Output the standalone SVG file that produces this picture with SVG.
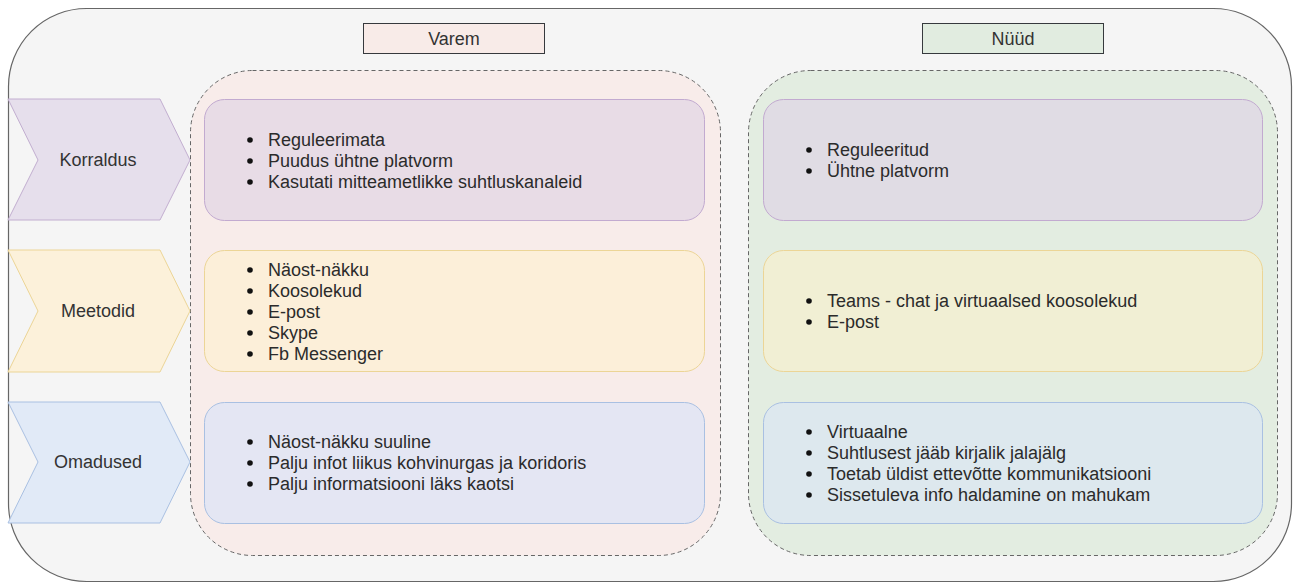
<svg xmlns="http://www.w3.org/2000/svg" width="1300" height="583" viewBox="0 0 1300 583">
  <style>
    text { font-family: "Liberation Sans", Arial, sans-serif; font-size: 18px; fill: #2b2b2b; }
    .lbl { text-anchor: middle; fill: #333; }
    .dash { stroke: #666; stroke-width: 1; stroke-dasharray: 4 3; }
    .bul { fill: #111; }
  </style>
  <rect width="1300" height="583" fill="#ffffff"/>

  <!-- outer frame -->
  <g id="frame">
    <rect x="8.5" y="8.5" width="1283" height="573" rx="78" ry="78" fill="#f5f5f5" stroke="#666" stroke-width="1.2"/>
  </g>

  <!-- column headers -->
  <g id="hdr-varem">
    <rect x="363.5" y="23.5" width="181" height="30" fill="#f8ebe8" stroke="#36393d"/>
    <text class="lbl" x="454" y="45">Varem</text>
  </g>
  <g id="hdr-nuud">
    <rect x="922.5" y="23.5" width="181" height="30" fill="#e1ece0" stroke="#36393d"/>
    <text class="lbl" x="1013" y="45">Nüüd</text>
  </g>

  <!-- column containers -->
  <g id="col-varem">
    <rect x="190.5" y="70.5" width="530" height="485" rx="62" ry="62" fill="#f8ecea" class="dash"/>
  </g>
  <g id="col-nuud">
    <rect x="748.5" y="70.5" width="529" height="485" rx="62" ry="62" fill="#e3ede1" class="dash"/>
  </g>

  <!-- row chevrons -->
  <g id="row-korraldus">
    <polygon points="8,99 160,99 190,160 160,220 8,220 38,160" fill="#e6dfec" stroke="#c2aed0"/>
    <text class="lbl" x="98" y="166">Korraldus</text>
  </g>
  <g id="row-meetodid">
    <polygon points="8,250 160,250 190,311 160,372 8,372 38,311" fill="#fcf1da" stroke="#ecd596"/>
    <text class="lbl" x="98" y="317">Meetodid</text>
  </g>
  <g id="row-omadused">
    <polygon points="8,402 160,402 190,462 160,523 8,523 38,462" fill="#e1eaf7" stroke="#a9c0e2"/>
    <text class="lbl" x="98" y="468">Omadused</text>
  </g>

  <!-- Varem boxes -->
  <g id="varem-korraldus">
    <rect x="204.5" y="99.5" width="500" height="121" rx="20" ry="20" fill="#e8dce6" stroke="#c2aad0"/>
    <circle class="bul" cx="250" cy="140" r="2.8"/><text x="268" y="146">Reguleerimata</text>
    <circle class="bul" cx="250" cy="161" r="2.8"/><text x="268" y="167">Puudus ühtne platvorm</text>
    <circle class="bul" cx="250" cy="182" r="2.8"/><text x="268" y="188">Kasutati mitteametlikke suhtluskanaleid</text>
  </g>
  <g id="varem-meetodid">
    <rect x="204.5" y="250.5" width="500" height="121" rx="20" ry="20" fill="#fcefd9" stroke="#ecd596"/>
    <circle class="bul" cx="250" cy="270" r="2.8"/><text x="268" y="276">Näost-näkku</text>
    <circle class="bul" cx="250" cy="291" r="2.8"/><text x="268" y="297">Koosolekud</text>
    <circle class="bul" cx="250" cy="312" r="2.8"/><text x="268" y="318">E-post</text>
    <circle class="bul" cx="250" cy="333" r="2.8"/><text x="268" y="339">Skype</text>
    <circle class="bul" cx="250" cy="354" r="2.8"/><text x="268" y="360">Fb Messenger</text>
  </g>
  <g id="varem-omadused">
    <rect x="204.5" y="402.5" width="500" height="121" rx="20" ry="20" fill="#e4e6f3" stroke="#a9c0e2"/>
    <circle class="bul" cx="250" cy="442" r="2.8"/><text x="268" y="448">Näost-näkku suuline</text>
    <circle class="bul" cx="250" cy="463" r="2.8"/><text x="268" y="469">Palju infot liikus kohvinurgas ja koridoris</text>
    <circle class="bul" cx="250" cy="484" r="2.8"/><text x="268" y="490">Palju informatsiooni läks kaotsi</text>
  </g>

  <!-- Nüüd boxes -->
  <g id="nuud-korraldus">
    <rect x="763.5" y="99.5" width="499" height="121" rx="20" ry="20" fill="#e0dce4" stroke="#c2aad0"/>
    <circle class="bul" cx="809" cy="150" r="2.8"/><text x="827" y="156">Reguleeritud</text>
    <circle class="bul" cx="809" cy="171" r="2.8"/><text x="827" y="177">Ühtne platvorm</text>
  </g>
  <g id="nuud-meetodid">
    <rect x="763.5" y="250.5" width="499" height="121" rx="20" ry="20" fill="#f1efd4" stroke="#ecd596"/>
    <circle class="bul" cx="809" cy="301" r="2.8"/><text x="827" y="307">Teams - chat ja virtuaalsed koosolekud</text>
    <circle class="bul" cx="809" cy="322" r="2.8"/><text x="827" y="328">E-post</text>
  </g>
  <g id="nuud-omadused">
    <rect x="763.5" y="402.5" width="499" height="121" rx="20" ry="20" fill="#dde8ee" stroke="#a9c0e2"/>
    <circle class="bul" cx="809" cy="432" r="2.8"/><text x="827" y="438">Virtuaalne</text>
    <circle class="bul" cx="809" cy="453" r="2.8"/><text x="827" y="459">Suhtlusest jääb kirjalik jalajälg</text>
    <circle class="bul" cx="809" cy="474" r="2.8"/><text x="827" y="480">Toetab üldist ettevõtte kommunikatsiooni</text>
    <circle class="bul" cx="809" cy="495" r="2.8"/><text x="827" y="501">Sissetuleva info haldamine on mahukam</text>
  </g>

  <!-- connectors: none drawn in this layout -->
  <g id="connectors"/>
</svg>
